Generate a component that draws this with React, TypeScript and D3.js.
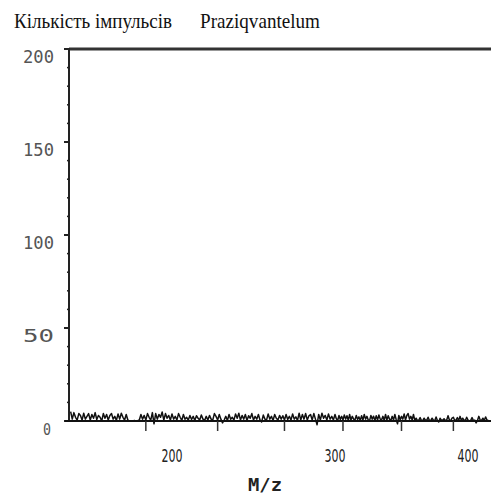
import React from "react";
import * as d3 from "d3";

const titleLeft = "Кількість імпульсів";
const titleRight = "Praziqvantelum";
const xLabel = "M/z";
const yTicks = [0, 50, 100, 150, 200];
const yMinor = [10, 20, 30, 40, 60, 70, 80, 90, 110, 120, 130, 140, 160, 170, 180, 190];
const xTickLabels = [200, 300, 400];
const xTickMarks = [184, 228, 269, 306, 350, 389];
// piecewise calibration of the M/z axis (non-linear spectrometer scale)
const xCalDomain = [137, 200, 300, 400, 417];
const noiseStart = 138;
const noiseStep = 1;
const noise = [
  5, 1, 4.5, 2, 0.5, 4, 3, 0.5, 4.2, 1, 2.5, 4, 0.5, 3.5, 1.5, 4.5, 0.8, 3, 2, 0,
  4, 1.5, 3.5, 0.5, 3, 4, 1, 2.5, 0.3, 3.8, 1, 4.2, 2, 0.5, 3.5, 0.5, 0, 0.2, 0, 0.3,
  0, 0.2, 0.5, 3.5, 1, 3, 0.5, 4, 2, 0.5, 4.5, -1.5, 4, 1, 3.5, 2, 4.8, 0.5, 4, 1.5,
  3, 0.5, 3.8, 1, 2.5, 0.5, 4, 2, 0.3, 3.5, 1, 2, 0.5, 3, 0.8, 2.5, 0.3, 2.8, 1.5, 0.5,
  3.2, 1, 0.3, 2.5, 0.5, 3, 1, 0.5, 4, 2.5, 0.5, 3.5, 1, -1, 0.5, 2.5, 0.3, 3.5, 1, 2,
  0.5, 3.8, 1.5, 4.2, 0.5, 3, 1, 3.5, 0.3, 2.8, 1.5, 4, 0.5, 2.5, 1, 3.5, 0.5, -0.5, 3.2, 1,
  0.5, 3.8, 1, 2.5, 0.3, 3.5, 1.5, 0.5, 3, 1, 2.8, 0.5, 3.5, 0.8, 2.5, 0.5, 3.8, 1, 2.2, 0.3,
  4.2, 0.5, 3.5, 1, 4, 0.5, 2.8, 3.5, 0.5, 4, 1, -2, 3.5, 0.5, 4.2, 1.5, 3, 0.5, 3.8, 1,
  2.5, 0.5, 3.5, 1.2, 0.3, 3, 0.8, 2.5, 0.5, 3.2, 1, 2.8, 0.3, 3.5, 0.5, 2.5, 1, 0.5, 3, 0.8,
  2.2, 0.3, 2.8, 0.5, 3.5, 1, 2.5, 0.5, 0.2, 3, 1, 2.6, 0.3, 2.8, 0.5, 3.2, 1, 0.5, 2.5, 0.3,
  3.5, 0.5, 2.8, 1, 0.3, 2.5, 0.5, 3.5, 0.8, -1.5, 3, 0.5, 2.5, 1, 3.8, 0.5, 3, 4, 1, 2.5,
  0.5, 3.5, 0.3, 1.5, 0.2, 0.5, 1.8, 0.2, 0.3, 1.5, 0.3, 0.5, 2, 0.2, 0.3, 1.5, 0.5, 0.2, 2.2, 0.3,
  -0.5, 1.5, 0.3, 0.5, 1.2, 0.2, 0.5, 2.8, 0.5, 0.2, 1.5, 2, 0.3, 0.5, 1.8, 0.2, 2.5, 0.3, 1.5, 0.5,
  0.3, 2, 0.5, 0.2, 0.3, 1.8, 0.2, 0.5, -1, 0.3, 2.5, 0.5, 0.2, 1.5, 0.3, 2.2, 0.5, 0.3,
];

export default function App() {
  const W = 491;
  const H = 495;
  const y = d3.scaleLinear().domain([0, 200]).range([421, 49]);
  const x = d3.scaleLinear().domain(xCalDomain).range([69, 172, 335, 468, 491]);
  const pts: [number, number][] = noise.map((v, i) => [noiseStart + i * noiseStep, v]);
  const line = d3
    .line<[number, number]>()
    .x((d) => x(d[0]))
    .y((d) => y(d[1]));
  const axisFont = "'DejaVu Sans Mono', monospace";
  return (
    <svg
      width={W}
      height={H}
      style={{ position: "absolute", left: 0, top: 0, background: "#fff" }}
    >
      <rect x={0} y={0} width={W} height={H} fill="#fff" />
      <text
        x={14}
        y={28}
        fontFamily="'Liberation Serif', serif"
        fontSize={21}
        fill="#111"
        textLength={158}
        lengthAdjust="spacingAndGlyphs"
      >
        {titleLeft}
      </text>
      <text
        x={200}
        y={28}
        fontFamily="'Liberation Serif', serif"
        fontSize={21}
        fill="#111"
        textLength={120}
        lengthAdjust="spacingAndGlyphs"
      >
        {titleRight}
      </text>
      {/* top frame line */}
      <line x1={x(137)} x2={W} y1={y(200)} y2={y(200)} stroke="#333" strokeWidth={3} />
      {/* y axis */}
      <line x1={x(137)} x2={x(137)} y1={y(200) - 1} y2={y(0) + 1} stroke="#222" strokeWidth={2} />
      {yTicks.map((t) => (
        <g key={t}>
          <line x1={x(137) - 5} x2={x(137)} y1={y(t)} y2={y(t)} stroke="#222" strokeWidth={2} />
          <text
            x={t === 0 ? 51 : 54}
            y={y(t) + 8}
            dy="0.35em"
            textAnchor="end"
            fontFamily={axisFont}
            fontSize={t === 0 ? 16 : 17}
            fill="#555"
            textLength={t === 0 ? 8 : 31}
            lengthAdjust="spacingAndGlyphs"
          >
            {t}
          </text>
        </g>
      ))}
      {yMinor.map((t) => (
        <line key={t} x1={x(137) - 2} x2={x(137) + 1} y1={y(t)} y2={y(t)} stroke="#222" strokeWidth={1.5} />
      ))}
      {/* baseline */}
      <line x1={x(137) - 4} x2={W} y1={y(0)} y2={y(0)} stroke="#111" strokeWidth={2} />
      {xTickMarks.map((t) => (
        <line key={t} x1={x(t)} x2={x(t)} y1={y(0)} y2={y(0) + 10} stroke="#333" strokeWidth={1.5} />
      ))}
      {xTickLabels.map((t) => (
        <text
          key={t}
          x={x(t)}
          y={456}
          dy="0.35em"
          textAnchor="middle"
          fontFamily="'Liberation Sans Narrow', 'DejaVu Sans Condensed', sans-serif"
          fontSize={18}
          fill="#222"
          textLength={21}
          lengthAdjust="spacingAndGlyphs"
        >
          {t}
        </text>
      ))}
      <text
        x={265}
        y={485}
        dy="0.35em"
        textAnchor="middle"
        fontFamily={axisFont}
        fontWeight="bold"
        fontSize={17}
        fill="#222"
        textLength={34}
        lengthAdjust="spacingAndGlyphs"
      >
        {xLabel}
      </text>
      {/* noise trace */}
      <path d={line(pts) || ""} fill="none" stroke="#111" strokeWidth={1.5} strokeLinejoin="round" />
    </svg>
  );
}
